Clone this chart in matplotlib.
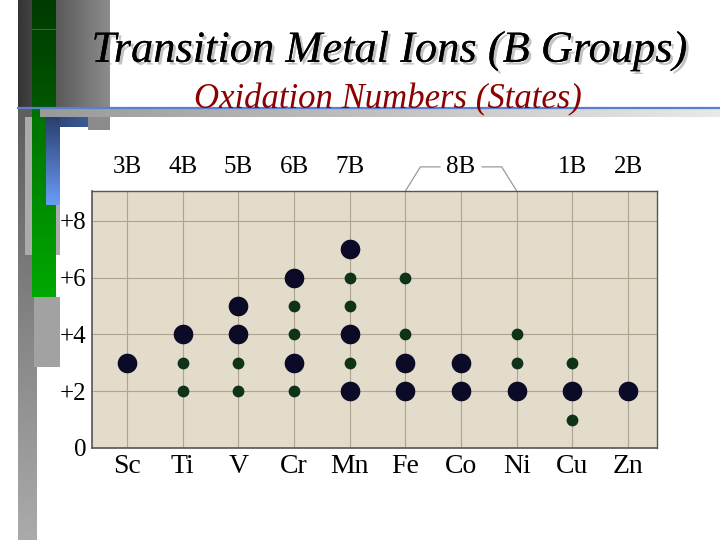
import numpy as np
import matplotlib
matplotlib.use("Agg")
import matplotlib.pyplot as plt
import matplotlib.patheffects as pe
from matplotlib.colors import LinearSegmentedColormap

# chart data
elements = ["Sc", "Ti", "V", "Cr", "Mn", "Fe", "Co", "Ni", "Cu", "Zn"]
# common (large dot) oxidation states per element
common_states = {
    "Sc": [3],
    "Ti": [4],
    "V": [5, 4],
    "Cr": [6, 3],
    "Mn": [7, 4, 2],
    "Fe": [3, 2],
    "Co": [3, 2],
    "Ni": [2],
    "Cu": [2],
    "Zn": [2],
}
# less common (small dot) oxidation states
other_states = {
    "Sc": [],
    "Ti": [3, 2],
    "V": [3, 2],
    "Cr": [5, 4, 2],
    "Mn": [6, 5, 3],
    "Fe": [6, 4],
    "Co": [],
    "Ni": [4, 3],
    "Cu": [3, 1],
    "Zn": [],
}
group_labels = ["3B", "4B", "5B", "6B", "7B", "8B", "1B", "2B"]
group_over = ["Sc", "Ti", "V", "Cr", "Mn", "Co", "Cu", "Zn"]
y_ticks = [0, 2, 4, 6, 8]
y_ticklabels = ["0", "+2", "+4", "+6", "+8"]

serif = ["Liberation Serif", "DejaVu Serif"]
W, H = 720, 540

fig = plt.figure(figsize=(7.2, 5.4), dpi=100)
fig.patch.set_facecolor("white")

# background axes in pixel coordinates for the slide decoration
bg = fig.add_axes([0, 0, 1, 1], zorder=0)
bg.axis("off")


def grad(ax, x0, x1, y0, y1, c0, c1, z, vertical=True):
    cmap = LinearSegmentedColormap.from_list("g", [c0, c1])
    if vertical:
        arr = np.linspace(0, 1, 64).reshape(-1, 1)
    else:
        arr = np.linspace(0, 1, 64).reshape(1, -1)
    ax.imshow(arr, cmap=cmap, extent=[x0, x1, y1, y0], aspect="auto",
              interpolation="bilinear", origin="upper", zorder=z)


def block(ax, x0, x1, y0, y1, c, z):
    grad(ax, x0, x1, y0, y1, c, c, z)


grad(bg, 18, 110, 0, 107, "#353535", "#8c8c8c", 1, vertical=False)
grad(bg, 18, 37, 107, 540, "#5e5e5e", "#aaaaaa", 2)
block(bg, 25, 60, 117, 255, "#ababab", 3)
block(bg, 34, 60, 297, 367, "#a2a2a2", 3)
grad(bg, 32, 56, 0, 107, "#003a00", "#005600", 4)
grad(bg, 32, 56, 107, 297, "#007000", "#00a800", 4)
bg.plot([32, 56], [29, 29], color="#2e6a2e", lw=0.8, zorder=5)
grad(bg, 40, 720, 109, 117, "#9a9a9a", "#e8e8e8", 5, vertical=False)
grad(bg, 46, 88, 117, 127, "#2a3f6e", "#3d5a94", 6, vertical=False)
block(bg, 88, 110, 117, 130, "#8c8c8c", 6)
grad(bg, 46, 60, 117, 205, "#2a3f6e", "#6a9cf8", 7)
bg.plot([18, 720], [107.5, 107.5], color="#5a7fd0", lw=1.6, zorder=8)
bg.set_xlim(0, W)
bg.set_ylim(H, 0)


def px(x, y):
    return x / W, 1 - y / H


# titles
shadow = [pe.withSimplePatchShadow(offset=(2, -2), shadow_rgbFace="#888888",
                                   alpha=0.5), pe.Normal()]
fig.text(*px(390, 51), "Transition Metal Ions (B Groups)",
         ha="center", va="center", fontsize=32, style="italic",
         family=serif, color="black", path_effects=shadow)
fig.text(*px(388, 100), "Oxidation Numbers (States)",
         ha="center", va="center", fontsize=25, style="italic",
         family=serif, color="#8b0000")

# the chart itself
ax = fig.add_axes([92 / W, 1 - 448 / H, 565 / W, 257 / H], zorder=2)
ax.set_facecolor("#e4dccb")
x = np.arange(len(elements))
ax.set_xlim(-0.63, 9.52)
ax.set_ylim(0, 9.05)

for xi in x:
    ax.axvline(xi, color="#ada58f", lw=0.8, zorder=1)
for yv in [2, 4, 6, 8]:
    ax.axhline(yv, color="#ada58f", lw=0.8, zorder=1)

for i, el in enumerate(elements):
    big = common_states[el]
    small = other_states[el]
    ax.scatter([i] * len(big), big, s=200, color="#0b0b28", zorder=3, lw=0)
    ax.scatter([i] * len(small), small, s=72, color="#0f3319", zorder=3, lw=0)

ax.set_xticks(x)
ax.set_xticklabels(elements, family=serif, fontsize=20)
ax.set_yticks(y_ticks)
ax.set_yticklabels(y_ticklabels, family=serif, fontsize=18)
ax.tick_params(length=0)
ax.tick_params(axis="x", pad=4)
ax.tick_params(axis="y", pad=4)
for s in ["top", "right"]:
    ax.spines[s].set_color("#555555")
    ax.spines[s].set_linewidth(1.0)
for s in ["left", "bottom"]:
    ax.spines[s].set_color("#555555")
    ax.spines[s].set_linewidth(1.2)

# group labels above the chart
for lab, el in zip(group_labels, group_over):
    ax.text(elements.index(el), 9.9, lab, ha="center", va="center",
            fontsize=18, family=serif, clip_on=False)

# bracket over the 8B group
fe, ni = elements.index("Fe"), elements.index("Ni")
ax.plot([fe, fe + 0.27, fe + 0.62], [9.05, 9.9, 9.9], color="#9a9a9a",
        lw=0.9, clip_on=False)
ax.plot([ni - 0.62, ni - 0.27, ni], [9.9, 9.9, 9.05], color="#9a9a9a",
        lw=0.9, clip_on=False)

fig.savefig("out.png", dpi=100)
